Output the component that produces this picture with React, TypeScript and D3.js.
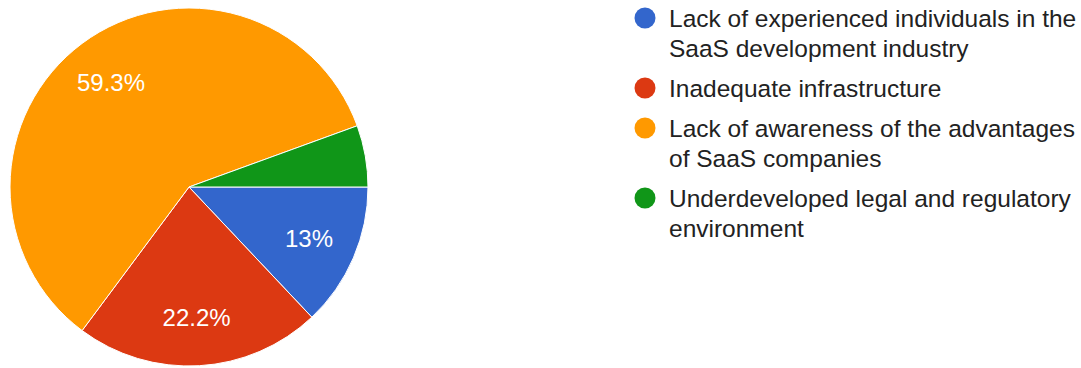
import React from "react";
import * as d3 from "d3";

const categories: string[][] = [
  ["Lack of experienced individuals in the", "SaaS development industry"],
  ["Inadequate infrastructure"],
  ["Lack of awareness of the advantages", "of SaaS companies"],
  ["Underdeveloped legal and regulatory", "environment"],
];
const values: number[] = [7, 12, 32, 3];
const sliceLabels: string[] = ["13%", "22.2%", "59.3%", ""];
const colors: string[] = ["#3366cc", "#dc3912", "#ff9900", "#109618"];

const W = 1081;
const H = 368;
const cx = 189;
const cy = 187;
const R = 179;
const FONT = "Arial, 'Liberation Sans', sans-serif";

export default function App() {
  const pie = d3
    .pie<number>()
    .sort(null)
    .value((d) => d)
    .startAngle(Math.PI / 2)
    .endAngle(Math.PI / 2 + 2 * Math.PI);
  const arcs = pie(values);
  const arc = d3.arc<d3.PieArcDatum<number>>().innerRadius(0).outerRadius(R);
  const labelArc = d3
    .arc<d3.PieArcDatum<number>>()
    .innerRadius(R * 0.73)
    .outerRadius(R * 0.73);

  const legendX = 669;
  const lineH = 30;
  const gap = 40;
  let y = 27;
  const legendItems = categories.map((lines, i) => {
    const start = y;
    y += (lines.length - 1) * lineH + gap;
    return { lines, start, i };
  });

  return (
    <svg
      width={W}
      height={H}
      style={{ position: "absolute", left: 0, top: 0, background: "#fff" }}
    >
      <g transform={`translate(${cx},${cy})`}>
        {arcs.map((a, i) => (
          <path key={i} d={arc(a) || ""} fill={colors[i]} stroke="#fff" strokeWidth={1} />
        ))}
        {arcs.map((a, i) => {
          const [lx, ly] = labelArc.centroid(a);
          return sliceLabels[i] ? (
            <text
              key={"l" + i}
              x={lx}
              y={ly}
              dy="0.35em"
              textAnchor="middle"
              fill="#fff"
              fontFamily={FONT}
              fontSize={24}
            >
              {sliceLabels[i]}
            </text>
          ) : null;
        })}
      </g>
      {legendItems.map(({ lines, start, i }) => (
        <g key={i}>
          <circle cx={645} cy={start - 9} r={10.5} fill={colors[i]} />
          {lines.map((t, j) => (
            <text
              key={j}
              x={legendX}
              y={start + j * lineH}
              fill="#222"
              fontFamily={FONT}
              fontSize={24.5}
            >
              {t}
            </text>
          ))}
        </g>
      ))}
    </svg>
  );
}
